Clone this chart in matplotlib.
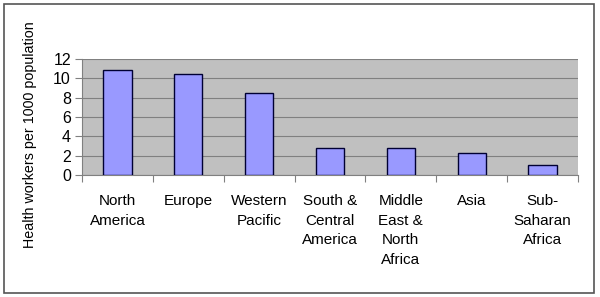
import numpy as np
import matplotlib.pyplot as plt
from matplotlib.patches import Rectangle

plt.rcParams['font.family'] = ['Liberation Sans', 'DejaVu Sans']

regions = ['North\nAmerica', 'Europe', 'Western\nPacific', 'South &\nCentral\nAmerica',
           'Middle\nEast &\nNorth\nAfrica', 'Asia', 'Sub-\nSaharan\nAfrica']
workers = [10.9, 10.4, 8.5, 2.8, 2.8, 2.3, 1.0]

fig = plt.figure(figsize=(6, 2.97), dpi=100)
fig.patches.append(Rectangle((4/600, 4/297), 590/600, 289/297, transform=fig.transFigure,
                             fill=False, edgecolor='#555555', linewidth=1.2))

ax = fig.add_axes([82/600, 1 - 175/297, 496/600, 116/297])
ax.set_facecolor('#c0c0c0')
x = np.arange(len(regions))
ax.bar(x, workers, width=0.4, color='#9999ff', edgecolor='#000033', linewidth=1, zorder=3)

ax.set_xlim(-0.5, len(regions) - 0.5)
ax.set_ylim(0, 12)
ax.set_yticks(range(0, 13, 2))
ax.yaxis.grid(True, color='#808080', linewidth=0.8, zorder=1)
ax.set_axisbelow(True)

ax.set_xticks(x)
ax.set_xticklabels(regions, fontsize=11, linespacing=1.5, va='top')
ax.set_xticks(np.arange(-0.5, len(regions)), minor=True)
ax.tick_params(axis='x', which='major', length=0, pad=14)
ax.tick_params(axis='x', which='minor', length=5, color='#808080', width=0.8)
ax.tick_params(axis='y', length=5, color='#808080', width=0.8, labelsize=11.5, pad=3)

for s in ['top', 'right']:
    ax.spines[s].set_visible(False)
for s in ['left', 'bottom']:
    ax.spines[s].set_color('#808080')
    ax.spines[s].set_linewidth(0.8)

fig.text(30/600, 1 - 135/297, 'Health workers per 1000 population', rotation=90,
         ha='center', va='center', fontsize=10.3)

fig.savefig('out.png', dpi=100)
